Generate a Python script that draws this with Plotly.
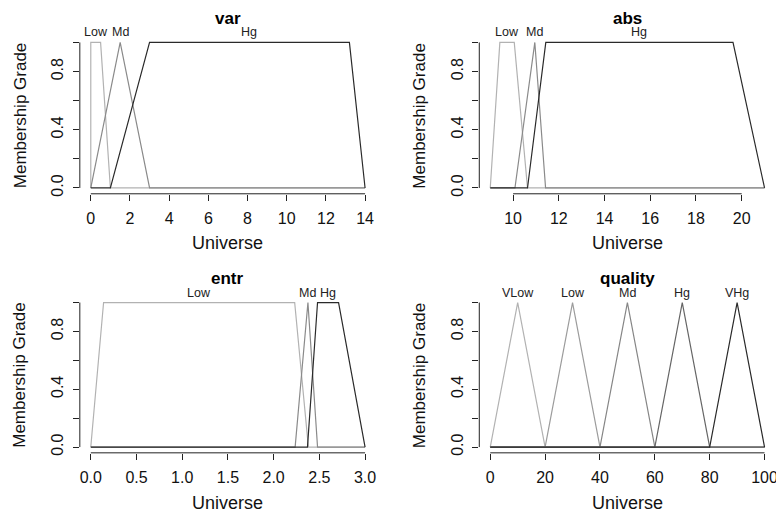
import plotly.graph_objects as go

# page body adds an 8px margin; the figure fills the rest of the 784x512 window
OFF = 8
W, H = 784 - OFF, 512 - OFF

# ---------------- data ----------------
var_universe = [0, 14]
var_terms = ["Low", "Md", "Hg"]
var_x = [[0, 0, 0.5, 1, 14], [0, 1.5, 3, 14], [0, 1, 3, 13.2, 14]]
var_y = [[0, 1, 1, 0, 0], [0, 1, 0, 0], [0, 0, 1, 1, 0]]
var_ticks = [0, 2, 4, 6, 8, 10, 12, 14]
var_ticklabels = ["0", "2", "4", "6", "8", "10", "12", "14"]

abs_universe = [9, 21]
abs_terms = ["Low", "Md", "Hg"]
abs_x = [[9, 9.42, 10.05, 10.63, 21], [9, 10.08, 10.95, 11.42, 21], [9, 10.63, 11.43, 19.62, 21]]
abs_y = [[0, 1, 1, 0, 0], [0, 0, 1, 0, 0], [0, 0, 1, 1, 0]]
abs_ticks = [10, 12, 14, 16, 18, 20]
abs_ticklabels = ["10", "12", "14", "16", "18", "20"]

entr_universe = [0, 3]
entr_terms = ["Low", "Md", "Hg"]
entr_x = [[0, 0.14, 2.23, 2.38, 3], [0, 2.235, 2.375, 2.48, 3], [0, 2.37, 2.48, 2.71, 3]]
entr_y = [[0, 1, 1, 0, 0], [0, 0, 1, 0, 0], [0, 0, 1, 1, 0]]
entr_ticks = [0, 0.5, 1.0, 1.5, 2.0, 2.5, 3.0]
entr_ticklabels = ["0.0", "0.5", "1.0", "1.5", "2.0", "2.5", "3.0"]

quality_universe = [0, 100]
quality_terms = ["VLow", "Low", "Md", "Hg", "VHg"]
quality_x = [[0, 10, 20, 100], [0, 20, 30, 40, 100], [0, 40, 50, 60, 100],
             [0, 60, 70, 80, 100], [0, 80, 90, 100]]
quality_y = [[0, 1, 0, 0], [0, 0, 1, 0, 0], [0, 0, 1, 0, 0], [0, 0, 1, 0, 0], [0, 0, 1, 0]]
quality_ticks = [0, 20, 40, 60, 80, 100]
quality_ticklabels = ["0", "20", "40", "60", "80", "100"]

y_ticks = [0, 0.2, 0.4, 0.6, 0.8, 1.0]
y_ticklabels = ["0.0", "", "0.4", "", "0.8", ""]

# ---------------- styling ----------------
colors3 = ["#b2b2b2", "#8a8a8a", "#2a2a2a"]
colors5 = ["#b2b2b2", "#9c9c9c", "#868686", "#666666", "#2a2a2a"]
FONT = "Liberation Sans, Arial, sans-serif"

# panel rectangles in window pixels
panels = [
    dict(name="var", uni=var_universe, terms=var_terms, xs=var_x, ys=var_y,
         ticks=var_ticks, tlab=var_ticklabels, cols=colors3, px=(80, 377), py=(36.8, 194.9)),
    dict(name="abs", uni=abs_universe, terms=abs_terms, xs=abs_x, ys=abs_y,
         ticks=abs_ticks, tlab=abs_ticklabels, cols=colors3, px=(480.5, 777.5), py=(36.8, 194.9)),
    dict(name="entr", uni=entr_universe, terms=entr_terms, xs=entr_x, ys=entr_y,
         ticks=entr_ticks, tlab=entr_ticklabels, cols=colors3, px=(80, 377), py=(298.5, 455.5)),
    dict(name="quality", uni=quality_universe, terms=quality_terms, xs=quality_x, ys=quality_y,
         ticks=quality_ticks, tlab=quality_ticklabels, cols=colors5, px=(480.5, 777.5), py=(298.5, 455.5)),
]


def fx(px):
    return (px - OFF) / W


def fy(py):
    return 1 - (py - OFF) / H


fig = go.Figure()
layout = dict(width=W, height=H, margin=dict(l=0, r=0, t=0, b=0),
              paper_bgcolor="white", plot_bgcolor="white", showlegend=False,
              font=dict(family=FONT, color="#111"))
shapes = []
annotations = []

for i, p in enumerate(panels):
    k = "" if i == 0 else str(i + 1)
    xa, ya = "x" + k, "y" + k
    lo, hi = p["uni"]
    pad = 0.04 * (hi - lo)
    x0f, x1f = fx(p["px"][0]), fx(p["px"][1])
    y1f, y0f = fy(p["py"][0]), fy(p["py"][1])

    for t, (xs, ys) in enumerate(zip(p["xs"], p["ys"])):
        fig.add_trace(go.Scatter(x=xs, y=ys, mode="lines", xaxis=xa, yaxis=ya,
                                 line=dict(color=p["cols"][t], width=1.2),
                                 hoverinfo="skip"))
        # term label above centre of core
        core = [x for x, y in zip(xs, ys) if y == 1]
        cx = sum(core) / len(core)
        annotations.append(dict(x=cx, y=1, xref=xa, yref=ya, text=p["terms"][t],
                                showarrow=False, yshift=10, yanchor="middle", xanchor="center",
                                borderpad=0, font=dict(size=12.5, color="#222")))

    layout["xaxis" + k] = dict(domain=[x0f, x1f], range=[lo - pad, hi + pad],
                               anchor=ya, showgrid=False, zeroline=False, showline=False,
                               tickmode="array", tickvals=p["ticks"], ticktext=p["tlab"],
                               ticks="outside", ticklen=6, tickwidth=1, tickcolor="#222",
                               tickfont=dict(size=16, color="#111"), ticklabelstandoff=4,
                               ticklabeloverflow="allow", fixedrange=True)
    layout["yaxis" + k] = dict(domain=[y0f, y1f], range=[-0.04, 1.04],
                               anchor=xa, showgrid=False, zeroline=False, showline=False,
                               tickmode="array", tickvals=y_ticks, ticktext=y_ticklabels,
                               ticks="outside", ticklen=6, tickwidth=1, tickcolor="#222",
                               tickangle=-90, tickfont=dict(size=16, color="#111"),
                               ticklabelstandoff=3, fixedrange=True)
    # R-style axis lines from first to last tick
    shapes.append(dict(type="line", xref=xa, yref="paper", x0=p["ticks"][0], x1=p["ticks"][-1],
                       y0=y0f, y1=y0f, line=dict(color="#222", width=1)))
    shapes.append(dict(type="line", xref="paper", yref=ya, x0=x0f, x1=x0f,
                       y0=y_ticks[0], y1=y_ticks[-1], line=dict(color="#222", width=1)))
    # titles
    cxp = (x0f + x1f) / 2
    annotations.append(dict(x=cxp, y=fy(p["py"][0] - 18.5), xref="paper", yref="paper",
                            text="<b>" + p["name"] + "</b>", showarrow=False, borderpad=0,
                            font=dict(size=17, color="#000"), yanchor="middle", xanchor="center"))
    annotations.append(dict(x=cxp, y=fy(p["py"][1] + 50), xref="paper", yref="paper",
                            text="Universe", showarrow=False, borderpad=0,
                            font=dict(size=18, color="#111"), yanchor="middle", xanchor="center"))
    annotations.append(dict(x=fx(p["px"][0] - 60), y=(y0f + y1f) / 2, xref="paper", yref="paper",
                            text="Membership Grade", showarrow=False, textangle=-90, borderpad=0,
                            font=dict(size=17, color="#111"), xanchor="center", yanchor="middle"))

layout["shapes"] = shapes
layout["annotations"] = annotations
fig.update_layout(**layout)
fig.write_html("out.html")
